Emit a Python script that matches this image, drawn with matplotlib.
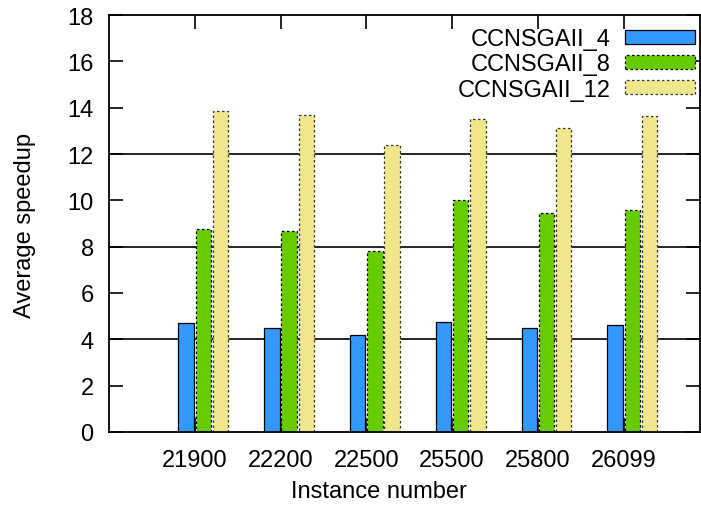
import matplotlib
matplotlib.use("Agg")
import matplotlib.pyplot as plt
import numpy as np

categories = ["21900", "22200", "22500", "25500", "25800", "26099"]
ccnsgaii_4 = [4.70, 4.49, 4.18, 4.74, 4.51, 4.62]
ccnsgaii_8 = [8.77, 8.68, 7.83, 10.01, 9.46, 9.60]
ccnsgaii_12 = [13.87, 13.69, 12.41, 13.52, 13.13, 13.65]
series_names = ["CCNSGAII_4", "CCNSGAII_8", "CCNSGAII_12"]
yticks = [0, 2, 4, 6, 8, 10, 12, 14, 16, 18]
grid_levels = [4, 8, 12]

plt.rcParams['font.family'] = ['Liberation Sans', 'DejaVu Sans']
FS = 17

W, H = 701, 506
fig = plt.figure(figsize=(W / 100, H / 100), dpi=100)
ax = fig.add_axes([109 / W, (H - 433) / H, (700 - 109) / W, (433 - 16) / H])

x = np.arange(len(categories))
bw = 0.18
offsets = [-0.1, 0.1, 0.3]
styles = [
    dict(color="#3399FF", edgecolor="#000000", linestyle="-"),
    dict(color="#66CC00", edgecolor="#000000", linestyle=(0, (2, 2))),
    dict(color="#F0E68C", edgecolor="#333333", linestyle=(0, (2, 2))),
]
for vals, off, st, name in zip([ccnsgaii_4, ccnsgaii_8, ccnsgaii_12], offsets, styles, series_names):
    ax.bar(x + off, vals, width=bw, facecolor=st["color"], edgecolor=st["edgecolor"],
           linestyle=st["linestyle"], linewidth=0.9, label=name, zorder=2)

for g in grid_levels:
    ax.axhline(g, color="black", linewidth=1.2, zorder=1)

ax.set_xlim(-1.0, 5.89)
ax.set_ylim(0, 18)
ax.set_yticks(yticks)
ax.set_xticks(x)
ax.set_xticklabels(categories)
ax.set_axisbelow(True)
ax.tick_params(axis="both", direction="in", length=10, width=1.2, labelsize=FS,
               top=True, right=True)
ax.tick_params(axis="y", pad=11)
ax.tick_params(axis="x", pad=12)
for s in ax.spines.values():
    s.set_linewidth(1.3)
    s.set_zorder(3)

fig.text(25 / W, 1 - 226 / H, "Average speedup", rotation=90, ha="center", va="center", fontsize=FS)
fig.text(379 / W, 1 - 492 / H, "Instance number", ha="center", va="center", fontsize=FS)

leg = ax.legend(loc="upper right", bbox_to_anchor=(695 / W, 1 - 29 / H), bbox_transform=fig.transFigure,
                frameon=False, fontsize=FS, markerfirst=False, handlelength=2.95,
                handleheight=0.55, labelspacing=0.14, handletextpad=0.62,
                borderpad=0.0, borderaxespad=0.0)
for t in leg.get_texts():
    t.set_ha("right")

fig.savefig("out.png", dpi=100)
